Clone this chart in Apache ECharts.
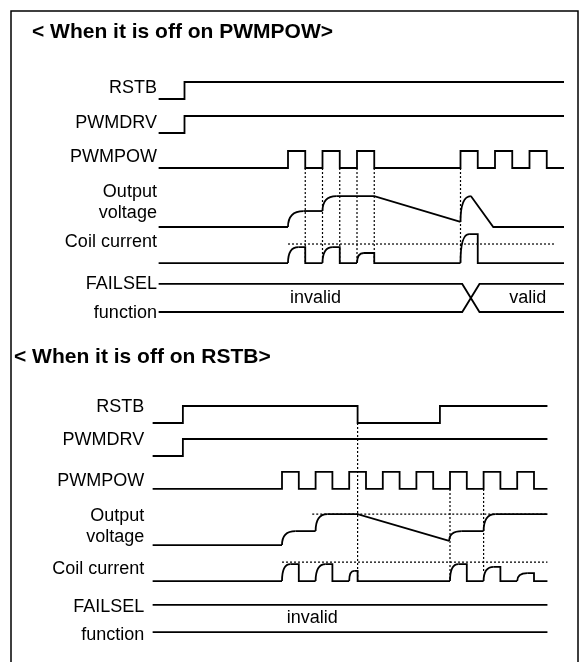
<!DOCTYPE html>
<html>
<head>
<meta charset="utf-8">
<script src="https://cdn.jsdelivr.net/npm/echarts@6/dist/echarts.min.js"></script>
<style>
  html, body { margin: 0; padding: 0; background: #fff; }
  #chart { width: 581px; height: 662px; }
</style>
</head>
<body>
<div id="chart"></div>
<script>
// x = time in half PWM periods, y = signal level (1 = logic high)
// 'c' entries mean: rounded rise from the previous point to this one

// ---- upper diagram: off on PWMPOW ----
const topRstb = [[0.5, 0], [2, 0], [2, 1], [24, 1]];
const topPwmdrv = [[0.5, 0], [2, 0], [2, 1], [24, 1]];
const topPwmpowPulses = [[8, 9], [10, 11], [12, 13], [18, 19], [20, 21], [22, 23]];
const topOutput = [[0.5, 0], [8, 0], ['c', 8.9, 0.94], [10, 0.94], ['c', 10.8, 1.82],
  [13, 1.82], [18, 0.3], ['c', 18.6, 1.82], [19.9, 0], [24, 0]];
const topCoil = [[0.5, 0], [8, 0], ['c', 8.6, 0.94], [9, 0.94], [9, 0], [10, 0],
  ['c', 10.6, 0.94], [11, 0.94], [11, 0], [12, 0], ['c', 12.4, 0.59], [13, 0.59], [13, 0],
  [18, 0], ['c', 18.5, 1.7], [19, 1.7], [19, 0], [24, 0]];
const topCoilLimit = [[8, 1.12], [23.5, 1.12]];
const topMarkers = [9, 10, 11, 12, 13, 18];
const topFailCross = [18.1, 19.1];
const topFailText = [['invalid', 9.6], ['valid', 21.9]];

// ---- lower diagram: off on RSTB ----
const botRstb = [[0.3, 0], [2.1, 0], [2.1, 1], [12.5, 1], [12.5, 0], [17.4, 0], [17.4, 1], [23.8, 1]];
const botPwmdrv = [[0.3, 0], [2.1, 0], [2.1, 1], [23.8, 1]];
const botPwmpowPulses = [[8, 9], [10, 11], [12, 13], [14, 15], [16, 17], [18, 19], [20, 21], [22, 23]];
const botOutput = [[0.3, 0], [8, 0], ['c', 8.8, 0.82], [10, 0.82], ['c', 10.7, 1.82],
  [12.5, 1.82], [17.95, 0.24], ['c', 18.7, 0.82], [20, 0.82], ['c', 20.7, 1.82], [23.8, 1.82]];
const botOutputRef = [[9.8, 1.82], [23.8, 1.82]];
const botCoil = [[0.3, 0], [8, 0], ['c', 8.5, 1.0], [9, 1.0], [9, 0], [10, 0],
  ['c', 10.6, 1.0], [11, 1.0], [11, 0], [12, 0], ['c', 12.3, 0.6], [12.5, 0.6], [12.5, 0],
  [18, 0], ['c', 18.5, 1.0], [19, 1.0], [19, 0], [20, 0], ['c', 20.6, 0.84], [21, 0.84], [21, 0],
  [22, 0], ['c', 22.6, 0.47], [23, 0.47], [23, 0], [23.8, 0]];
const botCoilLimit = [[8, 1.12], [23.8, 1.12]];
const botMarkers = [[12.5, 'rstb', 0], [18, 'pwmpow', 0], [20, 'pwmpow', 0.6]];
const botFailText = [['invalid', 9.8]];

const labelText = ['RSTB', 'PWMDRV', 'PWMPOW', 'Output\nvoltage', 'Coil current', 'FAILSEL', 'function'];
const laneKeys = ['rstb', 'pwmdrv', 'pwmpow', 'output', 'coil', 'failHi', 'failLo'];

const FONT = '"Liberation Sans", Arial, sans-serif';
const LW = 1.8;

const sections = [
  {
    grid: { left: 12, top: 65, width: 552, height: 255 },
    xMin: -8, xMax: 24, start: 0.5, end: 24, labelX: 0.4,
    lanes: { rstb: 2.0, pwmdrv: 4.0, pwmpow: 6.06, output: 9.53, coil: 11.65, failHi: 12.88, failLo: 14.53 },
    labelShift: [-0.65, -0.59, -0.65, -1.44, -1.22, 0, 0.05],
    rstb: topRstb, pwmdrv: topPwmdrv, pulses: topPwmpowPulses, output: topOutput, coil: topCoil,
    limit: topCoilLimit, outRef: null, cross: topFailCross, failText: topFailText,
    markers: topMarkers.map((t) => [t, 'pwmpow', 0]),
  },
  {
    grid: { left: 13.2, top: 389, width: 537.6, height: 255 },
    xMin: -8, xMax: 24, start: 0.3, end: 23.8, labelX: -0.2,
    lanes: { rstb: 2.0, pwmdrv: 3.94, pwmpow: 5.88, output: 9.18, coil: 11.3, failHi: 12.7, failLo: 14.3 },
    labelShift: [-0.94, -0.94, -0.47, -1.09, -0.7, 0.1, 0.15],
    rstb: botRstb, pwmdrv: botPwmdrv, pulses: botPwmpowPulses, output: botOutput, coil: botCoil,
    limit: botCoilLimit, outRef: botOutputRef, cross: null, failText: botFailText,
    markers: botMarkers,
  },
];

function pulsePath(pulses, start, end) {
  const pts = [[start, 0]];
  pulses.forEach(([a, b]) => { pts.push([a, 0], [a, 1], [b, 1], [b, 0]); });
  pts.push([end, 0]);
  return pts;
}

function addPath(path, lane, runs, curves) {
  let run = [];
  let prev = null;
  path.forEach((p) => {
    if (p[0] === 'c') {
      const to = [p[1], lane - p[2]];
      curves.push([prev[0], prev[1], to[0], to[1]]);
      if (run.length > 1) runs.push(run);
      run = [to];
      prev = to;
    } else {
      prev = [p[0], lane - p[1]];
      run.push(prev);
    }
  });
  if (run.length > 1) runs.push(run);
}

const grids = [];
const xAxes = [];
const yAxes = [];
const series = [];

sections.forEach((s, i) => {
  grids.push(s.grid);
  xAxes.push({ type: 'value', gridIndex: i, min: s.xMin, max: s.xMax, show: false });
  yAxes.push({ type: 'value', gridIndex: i, min: 0, max: 15, inverse: true, show: false });

  const L = s.lanes;
  const runs = [];
  const curves = [];
  const dotted = [];

  addPath(s.rstb, L.rstb, runs, curves);
  addPath(s.pwmdrv, L.pwmdrv, runs, curves);
  addPath(pulsePath(s.pulses, s.start, s.end), L.pwmpow, runs, curves);
  addPath(s.output, L.output, runs, curves);
  addPath(s.coil, L.coil, runs, curves);

  if (s.cross) {
    const [c0, c1] = s.cross;
    runs.push([[s.start, L.failHi], [c0, L.failHi], [c1, L.failLo], [s.end, L.failLo]]);
    runs.push([[s.start, L.failLo], [c0, L.failLo], [c1, L.failHi], [s.end, L.failHi]]);
  } else {
    runs.push([[s.start, L.failHi], [s.end, L.failHi]]);
    runs.push([[s.start, L.failLo], [s.end, L.failLo]]);
  }

  dotted.push(s.limit.map(([t, v]) => [t, L.coil - v]));
  if (s.outRef) dotted.push(s.outRef.map(([t, v]) => [t, L.output - v]));
  s.markers.forEach(([t, from, lvl]) => {
    dotted.push([[t, L[from]], [t, L.coil - lvl]]);
  });

  series.push({
    type: 'lines', coordinateSystem: 'cartesian2d', xAxisIndex: i, yAxisIndex: i,
    polyline: true, silent: true, clip: false,
    lineStyle: { color: '#000', width: 1.2, type: [2, 2], opacity: 1 },
    data: dotted.map((c) => ({ coords: c })),
  });
  series.push({
    type: 'lines', coordinateSystem: 'cartesian2d', xAxisIndex: i, yAxisIndex: i,
    polyline: true, silent: true, clip: false,
    lineStyle: { color: '#000', width: LW, opacity: 1, join: 'miter' },
    data: runs.map((c) => ({ coords: c })),
  });
  series.push({
    type: 'custom', coordinateSystem: 'cartesian2d', xAxisIndex: i, yAxisIndex: i,
    silent: true, clip: false,
    encode: { x: [0, 2], y: [1, 3] },
    data: curves,
    renderItem(params, api) {
      const p0 = api.coord([api.value(0), api.value(1)]);
      const p1 = api.coord([api.value(2), api.value(3)]);
      return {
        type: 'bezierCurve',
        shape: { x1: p0[0], y1: p0[1], x2: p1[0], y2: p1[1], cpx1: p0[0], cpy1: p1[1] },
        style: { stroke: '#000', lineWidth: LW, fill: null },
      };
    },
  });

  const texts = labelText.map((t, k) => ({ text: t, x: s.labelX, y: L[laneKeys[k]] + s.labelShift[k], align: 'right' }));
  s.failText.forEach(([t, x]) => texts.push({ text: t, x, y: (L.failHi + L.failLo) / 2, align: 'center' }));
  series.push({
    type: 'custom', coordinateSystem: 'cartesian2d', xAxisIndex: i, yAxisIndex: i,
    silent: true, clip: false,
    encode: { x: 0, y: 1 },
    data: texts.map((d) => [d.x, d.y]),
    renderItem(params, api) {
      const d = texts[params.dataIndex];
      const p = api.coord([api.value(0), api.value(1)]);
      return {
        type: 'text', x: p[0], y: p[1],
        style: {
          text: d.text, fill: '#000', font: `18px ${FONT}`,
          align: d.align, verticalAlign: 'middle', lineHeight: 21,
        },
      };
    },
  });
});

const chart = echarts.init(document.getElementById('chart'));
chart.setOption({
  animation: false,
  backgroundColor: '#fff',
  grid: grids,
  xAxis: xAxes,
  yAxis: yAxes,
  series,
  graphic: [
    {
      type: 'rect', silent: true, z: -1,
      shape: { x: 11, y: 11, width: 567, height: 700 },
      style: { fill: null, stroke: '#000', lineWidth: 1.5 },
    },
    {
      type: 'text', x: 32, y: 32,
      style: { text: '< When it is off on PWMPOW>', font: `bold 21px ${FONT}`, fill: '#000', verticalAlign: 'middle' },
    },
    {
      type: 'text', x: 14, y: 357,
      style: { text: '< When it is off on RSTB>', font: `bold 21px ${FONT}`, fill: '#000', verticalAlign: 'middle' },
    },
  ],
});
</script>
</body>
</html>
